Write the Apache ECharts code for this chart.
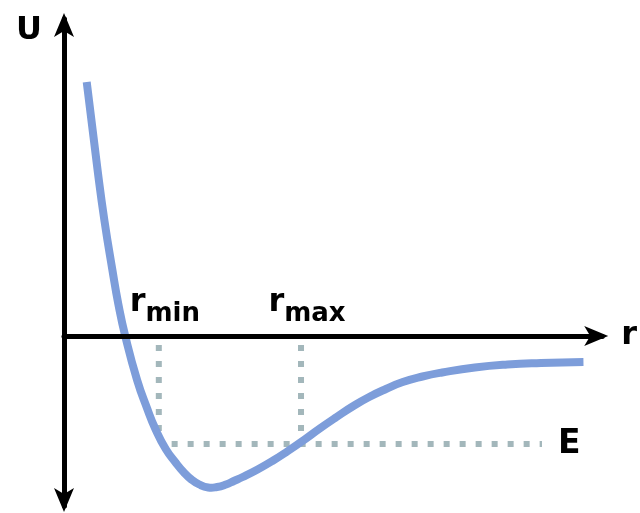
<!DOCTYPE html>
<html>
<head>
<meta charset="utf-8">
<script src="https://cdn.jsdelivr.net/npm/echarts@6/dist/echarts.min.js"></script>
<style>
  html, body { margin: 0; padding: 0; background: #fff; }
  #chart { width: 640px; height: 513px; }
</style>
</head>
<body>
<div id="chart"></div>
<script>
// Interatomic potential U(r): separation r and potential energy U
const rValues = [0.46, 0.68, 0.82, 0.98, 1.10, 1.24, 1.48, 1.68, 1.86, 2.06, 2.26, 2.42, 2.58, 2.74, 2.92, 3.10, 3.28, 3.44, 3.62, 3.92, 4.22, 4.52, 4.86, 5.18, 5.52, 5.86, 6.18, 6.52, 6.86, 7.26, 7.66, 8.32, 8.98, 9.66, 10.52];
const uValues = [5.08, 3.32, 2.30, 1.32, 0.64, 0.00, -0.88, -1.44, -1.88, -2.26, -2.53, -2.72, -2.87, -2.97, -3.03, -3.02, -2.97, -2.90, -2.82, -2.67, -2.50, -2.31, -2.08, -1.85, -1.62, -1.40, -1.22, -1.06, -0.92, -0.81, -0.73, -0.63, -0.57, -0.54, -0.52];

// Turning points and energy level
const turningNames = ['min', 'max'];
const turningR = [1.92, 4.8];
const energyE = -2.16;
const energyLineR = [2.18, 9.68];
const dropTop = -0.18;      // vertical guides begin just below the r axis
const dropBottom = -1.98;   // and stop just above the E line

// Axis ranges
const rRange = [0, 10.9];
const uRange = [-3.4, 6.34];

const curve = rValues.map((r, i) => [r, uValues[i]]);

const guideStyle = { color: '#a3b7bb', width: 6, type: [6, 10], cap: 'butt' };
const textFont = 'DejaVu Sans';
const ink = '#000';

const guides = turningR.map(r => ({
  type: 'line', silent: true, symbol: 'none', z: 1,
  lineStyle: guideStyle,
  data: [[r, dropTop], [r, dropBottom]]
}));

const axisLineStyle = { color: '#000', width: 5 };
const arrowSize = [15, 24];

// Potential curve: every sample mapped through the grid's scales,
// drawn once as one smoothed polyline.
function renderCurve(params, api) {
  if (params.dataIndex !== 0) return null;
  const points = curve.map(p => api.coord(p));
  return {
    type: 'polyline',
    shape: { points: points, smooth: 0.5 },
    style: { fill: null, stroke: '#7d9dda', lineWidth: 8, lineCap: 'butt', lineJoin: 'round' }
  };
}

const option = {
  animation: false,
  grid: { left: 64, right: 31, top: 19, bottom: 7 },
  xAxis: {
    type: 'value', min: rRange[0], max: rRange[1], z: 5,
    name: 'r', nameLocation: 'end', nameGap: 19,
    nameTextStyle: { fontFamily: textFont, fontWeight: 'bold', fontSize: 32, color: ink, align: 'left', verticalAlign: 'middle', padding: [0, 0, 12, 0] },
    axisLine: { show: true, onZero: true, symbol: ['none', 'arrow'], symbolSize: arrowSize, symbolOffset: [0, 6], lineStyle: axisLineStyle },
    axisTick: { show: false }, axisLabel: { show: false }, splitLine: { show: false }
  },
  yAxis: {
    type: 'value', min: uRange[0], max: uRange[1], z: 5,
    name: 'U', nameLocation: 'end', nameGap: -11.5,
    nameTextStyle: { fontFamily: textFont, fontWeight: 'bold', fontSize: 32, color: ink, align: 'right', verticalAlign: 'middle', padding: [0, 22, 0, 0] },
    axisLine: { show: true, onZero: true, symbol: ['arrow', 'arrow'], symbolSize: arrowSize, symbolOffset: [-6, 6], lineStyle: axisLineStyle },
    axisTick: { show: false }, axisLabel: { show: false }, splitLine: { show: false }
  },
  series: [
    ...guides,
    {
      type: 'line', silent: true, symbol: 'none', z: 1,
      lineStyle: guideStyle,
      data: [[energyLineR[0], energyE], [energyLineR[1], energyE]]
    },
    {
      type: 'custom', silent: true, z: 3, clip: false,
      renderItem: renderCurve,
      data: curve
    },
    {
      type: 'scatter', silent: true, symbolSize: 0, z: 6,
      itemStyle: { opacity: 1 },
      data: turningR.map((r, i) => ({ name: turningNames[i], value: [r, 0] })),
      label: {
        show: true, position: 'top', distance: 15, offset: [6, 0], opacity: 1,
        formatter: p => '{r|r}{s|' + p.name + '}',
        rich: {
          r: { fontFamily: textFont, fontWeight: 'bold', fontSize: 32, lineHeight: 36, color: ink },
          s: { fontFamily: textFont, fontWeight: 'bold', fontSize: 26, lineHeight: 36, color: ink, padding: [22, 0, 0, 0] }
        }
      }
    },
    {
      type: 'scatter', silent: true, symbolSize: 0, z: 6,
      itemStyle: { opacity: 1 },
      data: [{ name: 'E', value: [energyLineR[1], energyE] }],
      label: {
        show: true, position: 'right', distance: 16, opacity: 1,
        formatter: p => p.name,
        fontFamily: textFont, fontWeight: 'bold', fontSize: 33, color: ink
      }
    }
  ]
};

const chart = echarts.init(document.getElementById('chart'), null, { renderer: 'canvas' });
chart.setOption(option);
</script>
</body>
</html>
